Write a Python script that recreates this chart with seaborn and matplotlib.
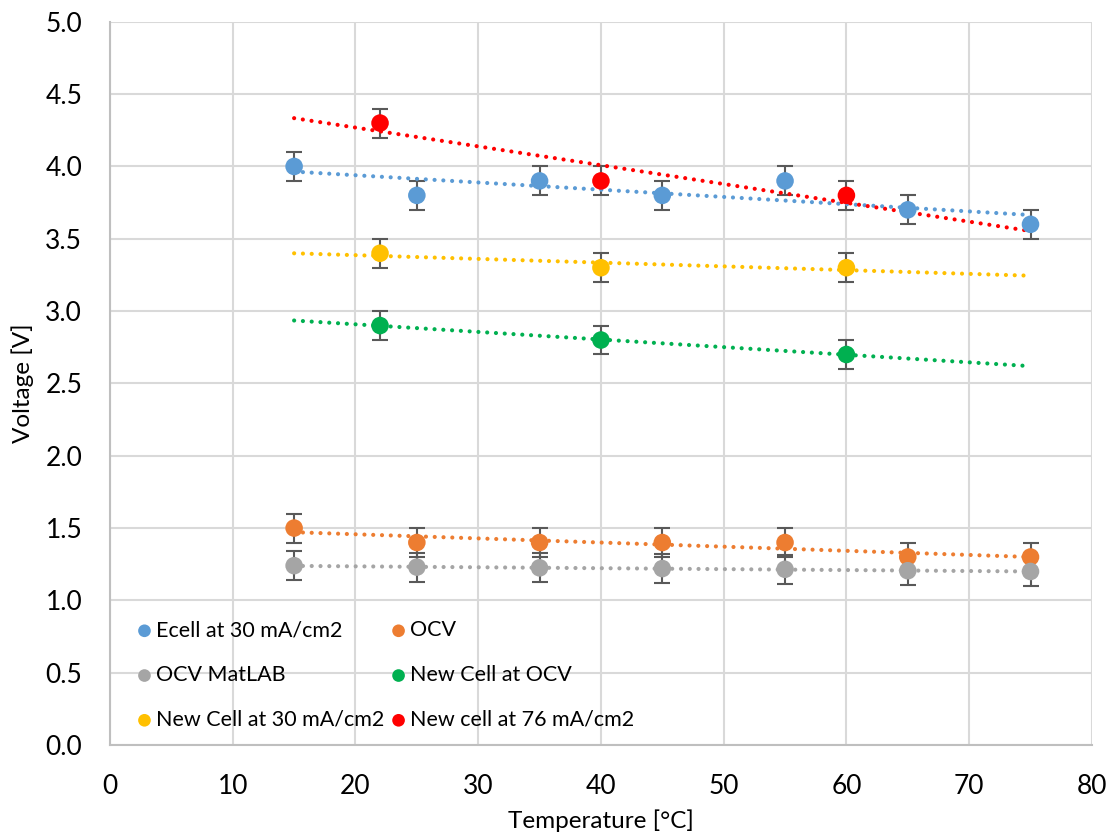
import numpy as np
import pandas as pd
import matplotlib
matplotlib.use("Agg")
import matplotlib.pyplot as plt
import seaborn as sns

# data
temp_old = [15, 25, 35, 45, 55, 65, 75]
ecell_30 = [4.0, 3.8, 3.9, 3.8, 3.9, 3.7, 3.6]
ocv = [1.5, 1.4, 1.4, 1.4, 1.4, 1.3, 1.3]
ocv_matlab = [1.24, 1.23, 1.225, 1.22, 1.215, 1.205, 1.2]

temp_new = [22, 40, 60]
new_ocv = [2.9, 2.8, 2.7]
new_30 = [3.4, 3.3, 3.3]
new_76 = [4.3, 3.9, 3.8]

err = 0.1

series = [
    ("Ecell at 30 mA/cm2", temp_old, ecell_30, "#5B9BD5"),
    ("OCV", temp_old, ocv, "#ED7D31"),
    ("OCV MatLAB", temp_old, ocv_matlab, "#A5A5A5"),
    ("New Cell at OCV", temp_new, new_ocv, "#00B050"),
    ("New Cell at 30 mA/cm2", temp_new, new_30, "#FFC000"),
    ("New cell at 76 mA/cm2", temp_new, new_76, "#FF0000"),
]

sns.set_theme(style="whitegrid")
plt.rcParams['font.family'] = ['Lato', 'DejaVu Sans']
plt.rcParams['text.color'] = 'black'
plt.rcParams['axes.labelcolor'] = 'black'

fig = plt.figure(figsize=(11.17, 8.39), dpi=100)
ax = fig.add_axes([0.0985, 0.112, 0.879, 0.862])

trend_x = np.array([15, 75])
for name, x, y, color in series:
    # error bars
    ax.errorbar(x, y, yerr=err, fmt="none", ecolor="#595959", elinewidth=1.5,
                capsize=6, capthick=1.5, zorder=2)
    # linear trendline over 15-75
    k, b = np.polyfit(x, y, 1)
    ax.plot(trend_x, k * trend_x + b, color=color, linestyle=(0, (0.01, 2.1)),
            linewidth=3.0, dash_capstyle="round", zorder=3)
    df = pd.DataFrame({"Temperature": x, "Voltage": y})
    sns.scatterplot(data=df, x="Temperature", y="Voltage", color=color, s=160,
                    edgecolor="none", label=name, ax=ax, zorder=4)

ax.set_xlim(0, 80)
ax.set_ylim(0, 5)
ax.set_xticks(np.arange(0, 81, 10))
ax.set_yticks(np.arange(0, 5.01, 0.5))
ax.set_yticklabels([f"{v:.1f}" for v in np.arange(0, 5.01, 0.5)])
ax.tick_params(axis="y", labelsize=19, colors="#000000", pad=14)
ax.tick_params(axis="x", labelsize=19, colors="#000000", pad=15)
ax.set_xlabel("Temperature [°C]", fontsize=17.5, labelpad=7)
ax.set_ylabel("Voltage [V]", fontsize=17.5, labelpad=8)
ax.grid(True, color="#D9D9D9", linewidth=1.5)
for s in ax.spines.values():
    s.set_visible(False)
for side in ("left", "bottom"):
    ax.spines[side].set_visible(True)
    ax.spines[side].set_color("#BFBFBF")
    ax.spines[side].set_linewidth(1.5)
ax.set_facecolor("white")

handles, labels = ax.get_legend_handles_labels()
order = [0, 2, 4, 1, 3, 5]
ax.legend([handles[i] for i in order], [labels[i] for i in order],
          loc="lower left", bbox_to_anchor=(0.0, 0.003), ncol=2, frameon=False,
          fontsize=15.5, handletextpad=-0.45, columnspacing=-0.35, labelspacing=1.15,
          markerscale=0.72, borderaxespad=0.2, labelcolor="black")

fig.savefig("out.png", dpi=100)
